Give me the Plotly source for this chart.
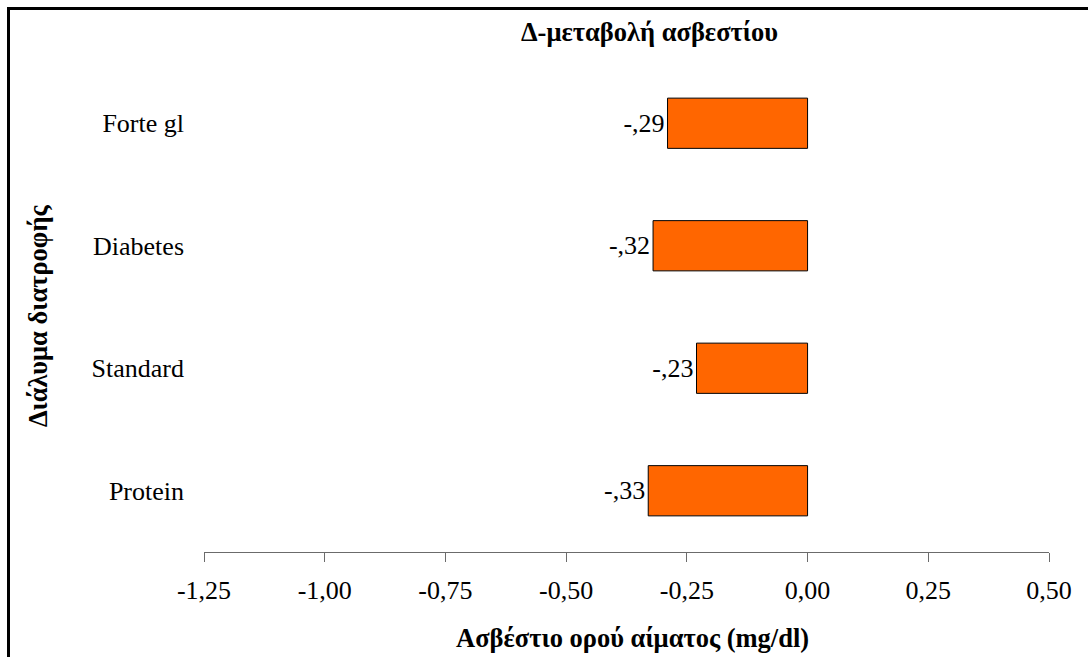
import plotly.graph_objects as go

# Diet solutions (top to bottom on the chart) and the change in serum calcium
categories = ["Protein", "Standard", "Diabetes", "Forte gl"]
calcium_change = [-0.33, -0.23, -0.32, -0.29]
x_ticks = [-1.25, -1.00, -0.75, -0.50, -0.25, 0.00, 0.25, 0.50]

FONT = "Liberation Serif"
AXIS_GREY = "#6b6b6b"
TICK_SIZE = 26
TITLE_SIZE = 26.5

# Figure geometry in pixels
W, H = 1088, 657
L, R, T, B = 204, 39, 62, 105
plot_w = W - L - R
plot_h = H - T - B


def px_x(px):
    return (px - L) / plot_w


def px_y(py):
    return (H - B - py) / plot_h


def comma_num(v):
    # e.g. -1.25 -> "-1,25" (plain hyphen, comma decimal)
    return f"{v:.2f}".replace(".", ",")


def bar_label(v):
    # e.g. -0.29 -> "-,29"
    return comma_num(v).replace("0,", ",")


x_min, x_max = x_ticks[0], x_ticks[-1]
zero_pos = (0 - x_min) / (x_max - x_min)

fig = go.Figure()
fig.add_trace(go.Bar(
    x=calcium_change,
    y=categories,
    orientation="h",
    width=0.41,
    marker=dict(color="#FF6600", line=dict(color="#000000", width=1)),
    text=[bar_label(v) for v in calcium_change],
    textposition="outside",
    textfont=dict(family=FONT, size=TICK_SIZE, color="#000000"),
    cliponaxis=False,
    hoverinfo="skip",
    showlegend=False,
))

n = len(categories)
fig.update_layout(
    width=W, height=H,
    margin=dict(l=L, r=R, t=T, b=B, pad=0),
    paper_bgcolor="white",
    plot_bgcolor="white",
    font=dict(family=FONT, size=TICK_SIZE, color="#000000"),
    xaxis=dict(
        range=[x_min, x_max],
        tickvals=x_ticks,
        ticktext=[comma_num(v) for v in x_ticks],
        ticks="outside", ticklen=9, tickcolor=AXIS_GREY, tickwidth=1,
        showline=True, linecolor=AXIS_GREY, linewidth=1,
        showgrid=False, zeroline=False,
        tickfont=dict(family=FONT, size=TICK_SIZE),
        ticklabelstandoff=6,
    ),
    yaxis=dict(
        type="category",
        categoryorder="array", categoryarray=categories,
        range=[-0.5, n - 0.5],
        showline=False, ticks="", showgrid=False, zeroline=False,
        tickfont=dict(family=FONT, size=TICK_SIZE),
        ticklabelstandoff=19,
    ),
    yaxis2=dict(
        overlaying="y", anchor="free", position=zero_pos, side="left",
        range=[-0.5, n - 0.5],
        tickvals=[i - 0.5 for i in range(n + 1)],
        ticks="outside", ticklen=7, tickcolor=AXIS_GREY, tickwidth=1,
        showticklabels=False,
        showline=True, linecolor=AXIS_GREY, linewidth=1,
        showgrid=False, zeroline=False,
    ),
    annotations=[
        dict(text="<b>Δ-μεταβολή ασβεστίου</b>", xref="paper", yref="paper",
             x=px_x(649), y=px_y(32), xanchor="center", yanchor="middle",
             showarrow=False, font=dict(family=FONT, size=TITLE_SIZE)),
        dict(text="<b>Ασβέστιο ορού αίματος (mg/dl)</b>", xref="paper", yref="paper",
             x=px_x(632), y=px_y(638), xanchor="center", yanchor="middle",
             showarrow=False, font=dict(family=FONT, size=TITLE_SIZE)),
        dict(text="<b>Διάλυμα διατροφής</b>", xref="paper", yref="paper",
             x=px_x(38), y=px_y(316), xanchor="center", yanchor="middle",
             textangle=-90, showarrow=False, font=dict(family=FONT, size=TITLE_SIZE)),
    ],
    shapes=[
        dict(type="rect", xref="paper", yref="paper",
             x0=px_x(8.5), y0=px_y(8.5), x1=px_x(W + 20), y1=px_y(H + 20),
             line=dict(color="#000000", width=3), fillcolor="rgba(0,0,0,0)",
             layer="below"),
    ],
)

fig.write_html("out.html")
